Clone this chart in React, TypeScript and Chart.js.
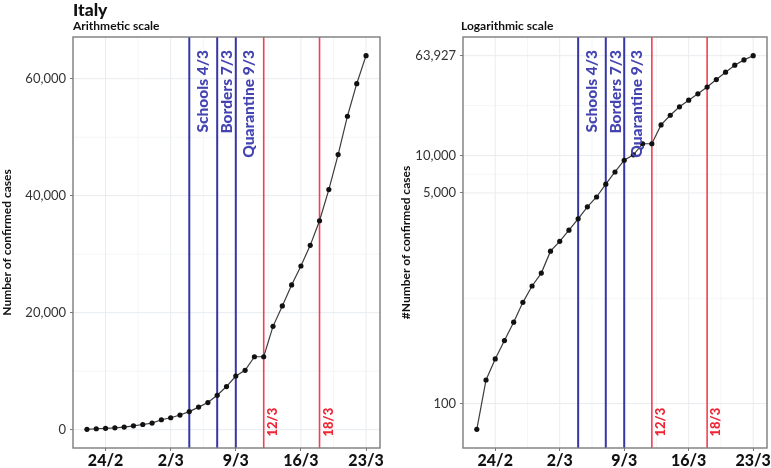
import { useEffect, useRef } from 'react';
import { Chart, registerables } from 'chart.js';

Chart.register(...registerables);

// ---------- data ----------
const dates = [
  '22/2', '23/2', '24/2', '25/2', '26/2', '27/2', '28/2', '29/2',
  '1/3', '2/3', '3/3', '4/3', '5/3', '6/3', '7/3', '8/3', '9/3', '10/3',
  '11/3', '12/3', '13/3', '14/3', '15/3', '16/3', '17/3', '18/3', '19/3',
  '20/3', '21/3', '22/3', '23/3',
];
const cases = [
  62, 155, 229, 322, 453, 655, 888, 1128,
  1694, 2036, 2502, 3089, 3858, 4636, 5883, 7375, 9172, 10149,
  12462, 12462, 17660, 21157, 24747, 27980, 31506, 35713, 41035,
  47021, 53578, 59138, 63927,
];
const xTickLabels = ['24/2', '2/3', '9/3', '16/3', '23/3'];
const linearTicks = [0, 20000, 40000, 60000];
const logTicks = [100, 5000, 10000, 63927];
const policyDates = ['4/3', '7/3', '9/3'];
const policyLabels = ['Schools 4/3', 'Borders 7/3', 'Quarantine 9/3'];
const markerDates = ['12/3', '18/3'];
const markerLabels = ['12/3', '18/3'];

// ---------- styles ----------
const FONT = 'Lato, "Open Sans", sans-serif';
const HEAVY = '900';
const BLUE_LINE = '#3636a6';
const BLUE_TEXT = '#4343b2';
const RED_LINE = '#f2404f';
const RED_TEXT = '#ee2535';
const GRID_MAJOR = '#e9ecef';
const GRID_MINOR = '#f3f5f7';
const policyBaselineDx = [19, 15, 18];
const markerBaselineDx = 13;

const xIndex = (d: string) => dates.indexOf(d);
const xTickValues = xTickLabels.map(xIndex);

function midpoints(vals: number[]) {
  const out: number[] = [];
  for (let i = 0; i < vals.length - 1; i++) out.push((vals[i] + vals[i + 1]) / 2);
  return out;
}

const decorPlugin = {
  id: 'decor',
  beforeDatasetsDraw(chart: any) {
    const o = chart.options.plugins.decor;
    const { ctx, chartArea: a } = chart;
    const xs = chart.scales.x;
    const ys = chart.scales.y;
    ctx.save();
    ctx.beginPath();
    ctx.rect(a.left, a.top, a.right - a.left, a.bottom - a.top);
    ctx.clip();
    const vline = (p: number, color: string, w: number) => {
      ctx.strokeStyle = color;
      ctx.lineWidth = w;
      ctx.beginPath();
      ctx.moveTo(p, a.top);
      ctx.lineTo(p, a.bottom);
      ctx.stroke();
    };
    const hline = (p: number, color: string, w: number) => {
      ctx.strokeStyle = color;
      ctx.lineWidth = w;
      ctx.beginPath();
      ctx.moveTo(a.left, p);
      ctx.lineTo(a.right, p);
      ctx.stroke();
    };
    midpoints(xTickValues).forEach((v) => vline(xs.getPixelForValue(v), GRID_MINOR, 1));
    o.yMinor.forEach((v: number) => hline(ys.getPixelForValue(v), GRID_MINOR, 1));
    xTickValues.forEach((v) => vline(xs.getPixelForValue(v), GRID_MAJOR, 1));
    o.yMajor.forEach((v: number) => hline(ys.getPixelForValue(v), GRID_MAJOR, 1));
    policyDates.forEach((d) => vline(xs.getPixelForValue(xIndex(d)), BLUE_LINE, 2));
    markerDates.forEach((d) => vline(xs.getPixelForValue(xIndex(d)), RED_LINE, 1.6));
    ctx.restore();
  },
  afterDatasetsDraw(chart: any) {
    const { ctx, chartArea: a } = chart;
    const xs = chart.scales.x;
    ctx.save();
    ctx.textBaseline = 'alphabetic';
    ctx.font = `${HEAVY} 15.5px ${FONT}`;
    ctx.fillStyle = BLUE_TEXT;
    policyDates.forEach((d, i) => {
      const p = xs.getPixelForValue(xIndex(d));
      ctx.save();
      ctx.translate(p + policyBaselineDx[i], a.top + 13);
      ctx.rotate(-Math.PI / 2);
      ctx.textAlign = 'right';
      ctx.fillText(policyLabels[i], 0, 0);
      ctx.restore();
    });
    ctx.font = `${HEAVY} 13px ${FONT}`;
    ctx.fillStyle = RED_TEXT;
    markerDates.forEach((d, i) => {
      const p = xs.getPixelForValue(xIndex(d));
      ctx.save();
      ctx.translate(p + markerBaselineDx, a.bottom - 11.5);
      ctx.rotate(-Math.PI / 2);
      ctx.textAlign = 'left';
      ctx.fillText(markerLabels[i], 0, 0);
      ctx.restore();
    });
    ctx.strokeStyle = '#7c7c7c';
    ctx.lineWidth = 1.4;
    ctx.strokeRect(a.left, a.top, a.right - a.left, a.bottom - a.top);
    ctx.restore();
  },
  afterDraw(chart: any) {
    const o = chart.options.plugins.decor;
    const { ctx } = chart;
    ctx.save();
    ctx.fillStyle = '#111';
    ctx.textAlign = 'left';
    ctx.textBaseline = 'alphabetic';
    o.titles.forEach((t: any) => {
      ctx.font = t.font;
      ctx.fillText(t.text, t.x, t.y);
    });
    ctx.restore();
  },
};

function buildConfig(kind: 'linear' | 'log'): any {
  const isLog = kind === 'log';
  const minV = Math.min(...cases);
  const maxV = Math.max(...cases);
  let yMin: number, yMax: number, yMajor: number[], yMinor: number[];
  if (isLog) {
    const l0 = Math.log10(minV);
    const l1 = Math.log10(maxV);
    const e = (l1 - l0) * 0.05;
    yMin = Math.pow(10, l0 - e);
    yMax = Math.pow(10, l1 + e);
    yMajor = logTicks;
    yMinor = midpoints(logTicks.map(Math.log10)).map((v) => Math.pow(10, v));
  } else {
    const e = (maxV - minV) * 0.05;
    yMin = minV - e;
    yMax = maxV + e;
    yMajor = linearTicks;
    yMinor = midpoints(linearTicks);
  }
  const titles = isLog
    ? [{ text: 'Logarithmic scale', font: `bold 12px ${FONT}`, x: 71, y: 29.5 }]
    : [
        { text: 'Italy', font: `${HEAVY} 17.5px ${FONT}`, x: 73, y: 15.5 },
        { text: 'Arithmetic scale', font: `bold 12px ${FONT}`, x: 73, y: 30 },
      ];
  const n = dates.length - 1;
  return {
    type: 'line',
    data: {
      datasets: [
        {
          data: cases.map((v, i) => ({ x: i, y: v })),
          borderColor: '#3c3c3c',
          borderWidth: 1.2,
          pointRadius: 2.6,
          pointBackgroundColor: '#111',
          pointBorderWidth: 0,
          tension: 0,
        },
      ],
    },
    options: {
      animation: false,
      responsive: false,
      maintainAspectRatio: false,
      layout: { padding: { left: 0, top: 37, right: isLog ? 1 : 10, bottom: 0 } },
      plugins: {
        legend: { display: false },
        tooltip: { enabled: false },
        decor: { yMajor, yMinor, titles },
      },
      scales: {
        x: {
          type: 'linear',
          min: -1.5,
          max: n + 1.5,
          afterBuildTicks: (s: any) => {
            s.ticks = xTickValues.map((v) => ({ value: v }));
          },
          afterFit: (s: any) => {
            s.height = 20;
            s.paddingLeft = 0;
            s.paddingRight = 0;
          },
          ticks: {
            autoSkip: false,
            maxRotation: 0,
            padding: 0,
            color: '#111',
            font: { family: FONT, size: 16, weight: HEAVY },
            callback: (v: number) => dates[v] ?? '',
          },
          grid: { drawOnChartArea: false, tickLength: 3, tickColor: '#777', lineWidth: 1 },
          border: { display: false },
        },
        y: {
          type: isLog ? 'logarithmic' : 'linear',
          min: yMin,
          max: yMax,
          afterBuildTicks: (s: any) => {
            s.ticks = yMajor.map((v) => ({ value: v }));
          },
          afterFit: (s: any) => {
            s.width = 73;
            s.paddingTop = 0;
            s.paddingBottom = 0;
          },
          ticks: {
            autoSkip: false,
            padding: 4,
            color: '#333',
            font: { family: FONT, size: 13 },
            callback: (v: number) => Number(v).toLocaleString('en-US'),
          },
          grid: { drawOnChartArea: false, tickLength: 3, tickColor: '#777', lineWidth: 1 },
          border: { display: false },
          title: {
            display: true,
            text: isLog ? '#Number of confirmed cases' : 'Number of confirmed cases',
            color: '#111',
            font: { family: FONT, size: 12, weight: 'bold' },
            padding: { top: isLog ? 9 : 0, bottom: 0 },
          },
        },
      },
    },
    plugins: [decorPlugin],
  };
}

export default function App() {
  const leftRef = useRef<HTMLCanvasElement>(null);
  const rightRef = useRef<HTMLCanvasElement>(null);
  useEffect(() => {
    document.body.style.margin = '0';
    const c1 = new Chart(leftRef.current as HTMLCanvasElement, buildConfig('linear'));
    const c2 = new Chart(rightRef.current as HTMLCanvasElement, buildConfig('log'));
    return () => {
      c1.destroy();
      c2.destroy();
    };
  }, []);
  return (
    <div style={{ position: 'fixed', left: 0, top: 0, width: 771, height: 468, background: '#fff' }}>
      <canvas
        ref={leftRef}
        width={390}
        height={468}
        style={{ position: 'absolute', left: 0, top: 0, width: 390, height: 468 }}
      />
      <canvas
        ref={rightRef}
        width={381}
        height={468}
        style={{ position: 'absolute', left: 390, top: 0, width: 381, height: 468 }}
      />
    </div>
  );
}
